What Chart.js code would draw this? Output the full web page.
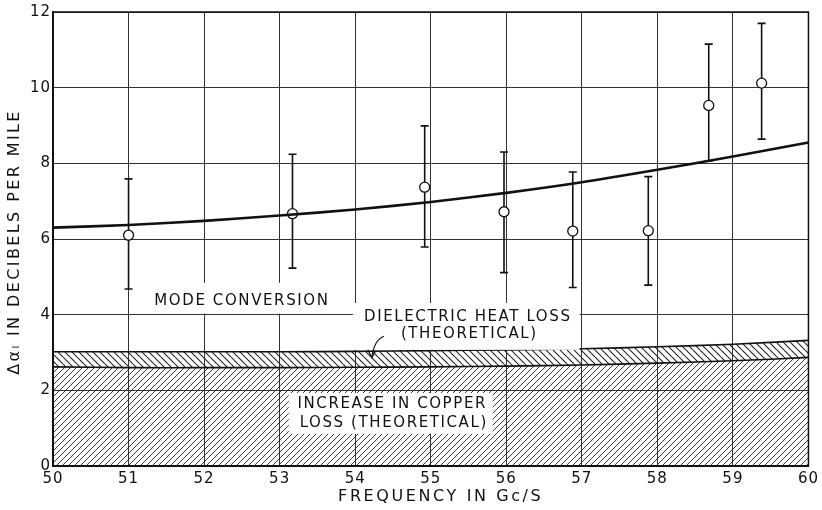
<!DOCTYPE html>
<html>
<head>
<meta charset="utf-8">
<script src="https://cdn.jsdelivr.net/npm/chart.js@4"></script>
<style>
  body { margin: 0; background: #fff; }
</style>
</head>
<body>
<canvas id="myChart" width="822" height="510"></canvas>
<script>
// curves
var freqs = [50, 51, 52, 53, 54, 55, 56, 57, 58, 59, 60];
var modeConversion = [6.30, 6.37, 6.48, 6.62, 6.78, 6.98, 7.22, 7.50, 7.83, 8.18, 8.55];
var dielectricTop = [3.02, 3.02, 3.02, 3.02, 3.03, 3.05, 3.07, 3.10, 3.15, 3.22, 3.32];
var copperLoss = [2.62, 2.60, 2.60, 2.60, 2.61, 2.62, 2.64, 2.67, 2.72, 2.78, 2.87];

// measured points with error bars
var measuredFreq = [51.0, 53.17, 54.92, 55.97, 56.88, 57.88, 58.68, 59.38];
var measured = [6.10, 6.67, 7.37, 6.72, 6.21, 6.22, 9.53, 10.12];
var errHigh = [7.59, 8.24, 8.99, 8.30, 7.77, 7.65, 11.15, 11.70];
var errLow = [4.68, 5.23, 5.79, 5.11, 4.72, 4.78, 8.06, 8.64];

var xTicks = [50, 51, 52, 53, 54, 55, 56, 57, 58, 59, 60];
var yTicks = [0, 2, 4, 6, 8, 10, 12];

var xTitle = 'FREQUENCY IN Gc/S';
var yTitle = 'Δαₗ IN DECIBELS PER MILE';

var FONT = '"DejaVu Sans", sans-serif';

function pts(xs, ys) {
    return xs.map(function (x, i) { return { x: x, y: ys[i] }; });
}

// hatch pattern, dir 1 = "/", -1 = "\"
function hatch(size, dir, w) {
    var c = document.createElement('canvas');
    c.width = size; c.height = size;
    var g = c.getContext('2d');
    g.strokeStyle = '#222';
    g.lineWidth = w;
    g.beginPath();
    for (var k = -1; k <= 1; k++) {
        if (dir > 0) {
            g.moveTo(k * size, size); g.lineTo(k * size + size, 0);
        } else {
            g.moveTo(k * size, 0); g.lineTo(k * size + size, size);
        }
    }
    g.stroke();
    return g.createPattern(c, 'repeat');
}

var ctx = document.getElementById('myChart').getContext('2d');

// wide lettering for the tick labels
var spacing = {
    id: 'spacing',
    beforeDraw: function (chart) { chart.ctx.letterSpacing = '1px'; }
};

// error bars under the markers
var errorBars = {
    id: 'errorBars',
    beforeDatasetsDraw: function (chart) {
        var c = chart.ctx, xs = chart.scales.x, ys = chart.scales.y;
        c.save();
        c.strokeStyle = '#111';
        c.lineWidth = 1.6;
        measuredFreq.forEach(function (f, i) {
            var px = xs.getPixelForValue(f);
            var top = ys.getPixelForValue(errHigh[i]);
            var bot = ys.getPixelForValue(errLow[i]);
            c.beginPath();
            c.moveTo(px, top); c.lineTo(px, bot);
            c.moveTo(px - 4, top); c.lineTo(px + 4, top);
            c.moveTo(px - 4, bot); c.lineTo(px + 4, bot);
            c.stroke();
        });
        c.restore();
    }
};

// text labels on white boxes, arrow, frame, axis titles
var labels = {
    id: 'labels',
    afterDatasetsDraw: function (chart) {
        var c = chart.ctx, xs = chart.scales.x, ys = chart.scales.y;
        c.save();
        c.font = '15px ' + FONT;
        c.letterSpacing = '1.6px';
        c.textAlign = 'center';
        c.textBaseline = 'middle';

        function box(x0, y0, x1, y1) {
            c.fillStyle = '#fff';
            c.fillRect(xs.getPixelForValue(x0), ys.getPixelForValue(y0),
                xs.getPixelForValue(x1) - xs.getPixelForValue(x0),
                ys.getPixelForValue(y1) - ys.getPixelForValue(y0));
        }
        function text(s, x, y) {
            c.fillStyle = '#111';
            c.fillText(s, xs.getPixelForValue(x) + 0.8, ys.getPixelForValue(y));
        }

        box(51.28, 4.84, 53.69, 4.03);
        text('MODE CONVERSION', 52.49, 4.37);

        box(53.97, 4.31, 56.97, 3.07);
        text('DIELECTRIC HEAT LOSS', 55.48, 3.94);
        text('(THEORETICAL)', 55.5, 3.49);

        box(53.12, 1.93, 55.82, 0.85);
        text('INCREASE IN COPPER', 54.48, 1.64);
        text('LOSS (THEORETICAL)', 54.5, 1.14);

        // arrow from label to dielectric band
        var ax = xs.getPixelForValue(54.38), ay = ys.getPixelForValue(3.43);
        var bx = xs.getPixelForValue(54.22), by = ys.getPixelForValue(2.86);
        c.strokeStyle = '#111';
        c.lineWidth = 1.2;
        c.beginPath();
        c.moveTo(ax, ay);
        c.quadraticCurveTo(ax - 10, ay + 4, bx, by);
        c.stroke();
        c.beginPath();
        c.moveTo(bx - 4, by - 8); c.lineTo(bx, by); c.lineTo(bx + 4, by - 7);
        c.stroke();

        // frame
        var a = chart.chartArea;
        c.lineWidth = 1.5;
        c.strokeRect(a.left, a.top, a.right - a.left, a.bottom - a.top);

        // axis titles
        c.font = '16px ' + FONT;
        c.letterSpacing = '2.6px';
        c.fillStyle = '#111';
        c.fillText(xTitle, (a.left + a.right) / 2 + 10, 497);
        c.letterSpacing = '2.4px';
        c.translate(15, 244);
        c.rotate(-Math.PI / 2);
        c.fillText(yTitle, 2, 0);
        c.restore();
    }
};

var chart = new Chart(ctx, {
    type: 'line',
    data: {
        datasets: [{
            label: 'Increase in copper loss',
            data: pts(freqs, copperLoss),
            borderColor: '#111',
            borderWidth: 1.6,
            backgroundColor: hatch(6, 1, 0.9),
            fill: 'origin',
            pointRadius: 0,
            tension: 0.3
        },
        {
            label: 'Dielectric heat loss',
            data: pts(freqs, dielectricTop),
            borderColor: '#111',
            borderWidth: 1.6,
            backgroundColor: hatch(7, -1, 1.1),
            fill: '-1',
            pointRadius: 0,
            tension: 0.3
        },
        {
            label: 'Mode conversion',
            data: pts(freqs, modeConversion),
            borderColor: '#111',
            borderWidth: 2.6,
            fill: false,
            pointRadius: 0,
            tension: 0.3
        },
        {
            label: 'Measured',
            type: 'scatter',
            data: pts(measuredFreq, measured),
            showLine: false,
            pointStyle: 'circle',
            pointRadius: 5,
            pointBorderWidth: 1.3,
            pointBorderColor: '#111',
            pointBackgroundColor: '#fff'
        }]
    },
    options: {
        responsive: false,
        animation: false,
        devicePixelRatio: 1,
        layout: { padding: { top: 12, right: 13, left: 0, bottom: 0 } },
        plugins: {
            legend: { display: false },
            tooltip: { enabled: false }
        },
        scales: {
            x: {
                type: 'linear',
                min: 50, max: 60,
                afterBuildTicks: function (s) { s.ticks = xTicks.map(function (v) { return { value: v }; }); },
                afterFit: function (s) { s.height = 44; },
                grid: { color: '#333', lineWidth: 1, drawTicks: false },
                border: { color: '#111', width: 2 },
                ticks: { color: '#111', font: { family: FONT, size: 15 }, padding: 4, maxRotation: 0 }
            },
            y: {
                min: 0, max: 12,
                afterBuildTicks: function (s) { s.ticks = yTicks.map(function (v) { return { value: v }; }); },
                afterFit: function (s) { s.width = 53; },
                grid: { color: '#333', lineWidth: 1, drawTicks: false },
                border: { color: '#111', width: 2 },
                ticks: { color: '#111', font: { family: FONT, size: 15 }, padding: 2 }
            }
        }
    },
    plugins: [spacing, errorBars, labels]
});
</script>
</body>
</html>
